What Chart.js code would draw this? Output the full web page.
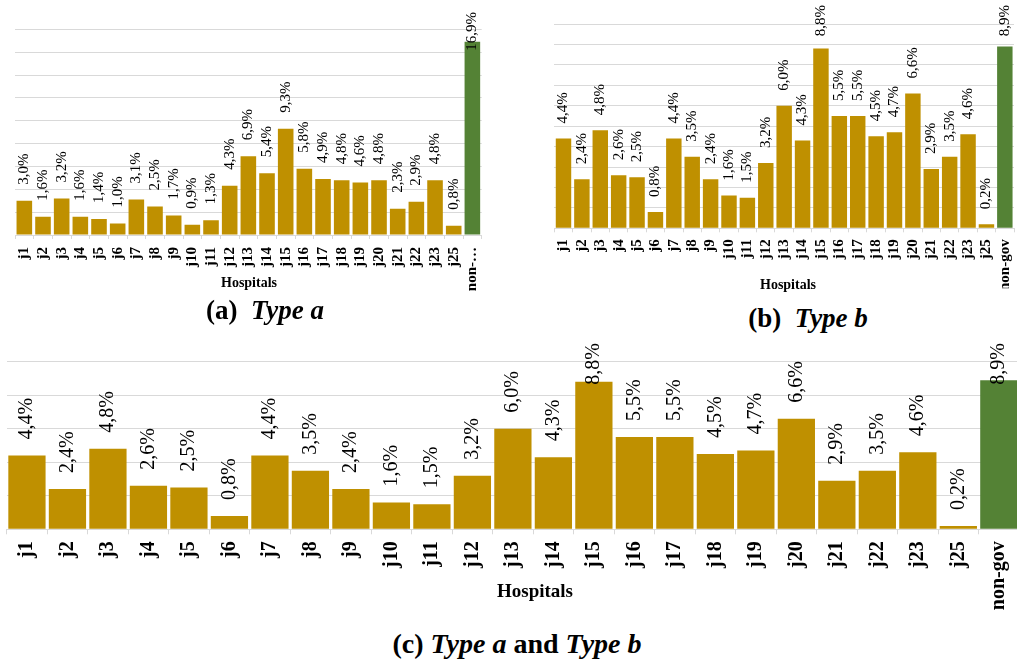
<!DOCTYPE html>
<html>
<head>
<meta charset="utf-8">
<title>Hospital shares</title>
<script src="https://cdn.jsdelivr.net/npm/chart.js@4/dist/chart.umd.min.js"></script>
<style>
  html, body { margin: 0; padding: 0; background: #fff; width: 1017px; height: 665px; overflow: hidden; }
  body { position: relative; font-family: 'Liberation Serif', 'Times New Roman', serif; color: #000; }
  canvas { position: absolute; }
  .axis-title, .caption { position: absolute; font-weight: bold; white-space: nowrap; line-height: 1; transform: translate(-50%, -50%); }
  .axis-title { font-size: 14px; }
  .caption { font-size: 27px; }
  .caption i { font-style: italic; }
</style>
</head>
<body>
<canvas id="chart-a" width="500" height="300" style="left:0;top:0"></canvas>
<canvas id="chart-b" width="510" height="300" style="left:520px;top:0"></canvas>
<canvas id="chart-c" width="1030" height="285" style="left:0;top:340px"></canvas>

<div class="axis-title" style="left:249px;top:283px">Hospitals</div>
<div class="axis-title" style="left:788px;top:285px">Hospitals</div>
<div class="axis-title" style="left:535px;top:590px;font-size:19px">Hospitals</div>

<div class="caption" style="left:265px;top:310px">(a)&nbsp; <i>Type a</i></div>
<div class="caption" style="left:808px;top:318px">(b)&nbsp; <i>Type b</i></div>
<div class="caption" style="left:517px;top:644px;font-size:28px">(c) <i>Type a</i> and <i>Type b</i></div>

<script>
const hospitals = ['j1', 'j2', 'j3', 'j4', 'j5', 'j6', 'j7', 'j8', 'j9', 'j10', 'j11', 'j12',
  'j13', 'j14', 'j15', 'j16', 'j17', 'j18', 'j19', 'j20', 'j21', 'j22', 'j23', 'j25', 'non-gov'];

// shares in percent, one per hospital
const typeAShares = [3.0, 1.6, 3.2, 1.6, 1.4, 1.0, 3.1, 2.5, 1.7, 0.9, 1.3, 4.3,
  6.9, 5.4, 9.3, 5.8, 4.9, 4.8, 4.6, 4.8, 2.3, 2.9, 4.8, 0.8, 16.9];
const typeBShares = [4.4, 2.4, 4.8, 2.6, 2.5, 0.8, 4.4, 3.5, 2.4, 1.6, 1.5, 3.2,
  6.0, 4.3, 8.8, 5.5, 5.5, 4.5, 4.7, 6.6, 2.9, 3.5, 4.6, 0.2, 8.9];
const typeABShares = [4.4, 2.4, 4.8, 2.6, 2.5, 0.8, 4.4, 3.5, 2.4, 1.6, 1.5, 3.2,
  6.0, 4.3, 8.8, 5.5, 5.5, 4.5, 4.7, 6.6, 2.9, 3.5, 4.6, 0.2, 8.9];

// y axis ranges (max, step) per chart
const yRangeA = [18, 2];
const yRangeB = [10, 1];
const yRangeAB = [10, 2];

const GOLD = '#BF9000';
const GREEN = '#548235';
const GRID = '#D9D9D9';

Chart.defaults.font.family = "'Liberation Serif', 'Times New Roman', serif";
Chart.defaults.color = '#000';

// rotated "x,y%" labels above each bar
const valueLabels = {
  id: 'valueLabels',
  afterDatasetsDraw(chart, args, opts) {
    const { ctx } = chart;
    const values = chart.data.datasets[0].data;
    ctx.save();
    ctx.font = opts.font;
    ctx.fillStyle = '#000';
    ctx.textAlign = 'left';
    ctx.textBaseline = 'middle';
    chart.getDatasetMeta(0).data.forEach((bar, i) => {
      const text = values[i].toFixed(1).replace('.', ',') + '%';
      const w = ctx.measureText(text).width;
      // keep the label inside the canvas, pushing it into the bar if needed
      const bottom = Math.max(bar.y - opts.gap, opts.minTop + w);
      ctx.save();
      ctx.translate(bar.x, bottom);
      ctx.rotate(-Math.PI / 2);
      ctx.fillText(text, 0, 0);
      ctx.restore();
    });
    ctx.restore();
  }
};

function makeChart(canvasId, values, yRange, s) {
  return new Chart(document.getElementById(canvasId), {
    type: 'bar',
    data: {
      labels: hospitals,
      datasets: [{
        data: values,
        backgroundColor: hospitals.map(h => h === 'non-gov' ? GREEN : GOLD),
        barPercentage: s.barPct,
        categoryPercentage: 1
      }]
    },
    options: {
      responsive: false,
      animation: false,
      layout: { padding: s.padding },
      plugins: {
        legend: { display: false },
        tooltip: { enabled: false },
        valueLabels: { font: s.labelFont, gap: s.gap, minTop: s.minTop }
      },
      scales: {
        x: {
          grid: { display: true, drawOnChartArea: false, drawTicks: true, tickLength: s.tickLen, color: GRID, offset: true },
          border: { display: true, color: GRID },
          ticks: {
            autoSkip: false, maxRotation: 90, minRotation: 90, padding: s.tickPad,
            font: { size: s.tickSize, weight: 'bold' },
            callback(value) {
              const name = this.getLabelForValue(value);
              return s.shortNames && name.length > 5 ? name.slice(0, 4) + '…' : name;
            }
          },
          afterFit: sc => { sc.height = s.axisHeight; }
        },
        y: {
          min: 0, max: yRange[0],
          ticks: { display: false, stepSize: yRange[1] },
          grid: { color: GRID, drawTicks: false },
          border: { display: false },
          afterFit: sc => { sc.width = 0; }
        }
      }
    },
    plugins: [valueLabels]
  });
}

makeChart('chart-a', typeAShares, yRangeA, {
  barPct: 0.835, padding: { left: 15, right: 18.3, top: 29.3, bottom: 5 },
  axisHeight: 60, tickLen: 4, tickPad: 8, tickSize: 15, shortNames: true,
  labelFont: "15px 'Liberation Serif'", gap: 16, minTop: 12
});

makeChart('chart-b', typeBShares, yRangeB, {
  barPct: 0.84, padding: { left: 34.3, right: 8.3, top: 24, bottom: 11.7 },
  axisHeight: 60, tickLen: 4, tickPad: 7, tickSize: 15, shortNames: false,
  labelFont: "15px 'Liberation Serif'", gap: 15, minTop: 5
});

makeChart('chart-c', typeABShares, yRangeAB, {
  barPct: 0.92, padding: { left: 6.7, right: 8.3, top: 21.7, bottom: 10.7 },
  axisHeight: 85, tickLen: 5, tickPad: 7, tickSize: 20, shortNames: false,
  labelFont: "20px 'Liberation Serif'", gap: 16, minTop: 3
});
</script>
</body>
</html>
